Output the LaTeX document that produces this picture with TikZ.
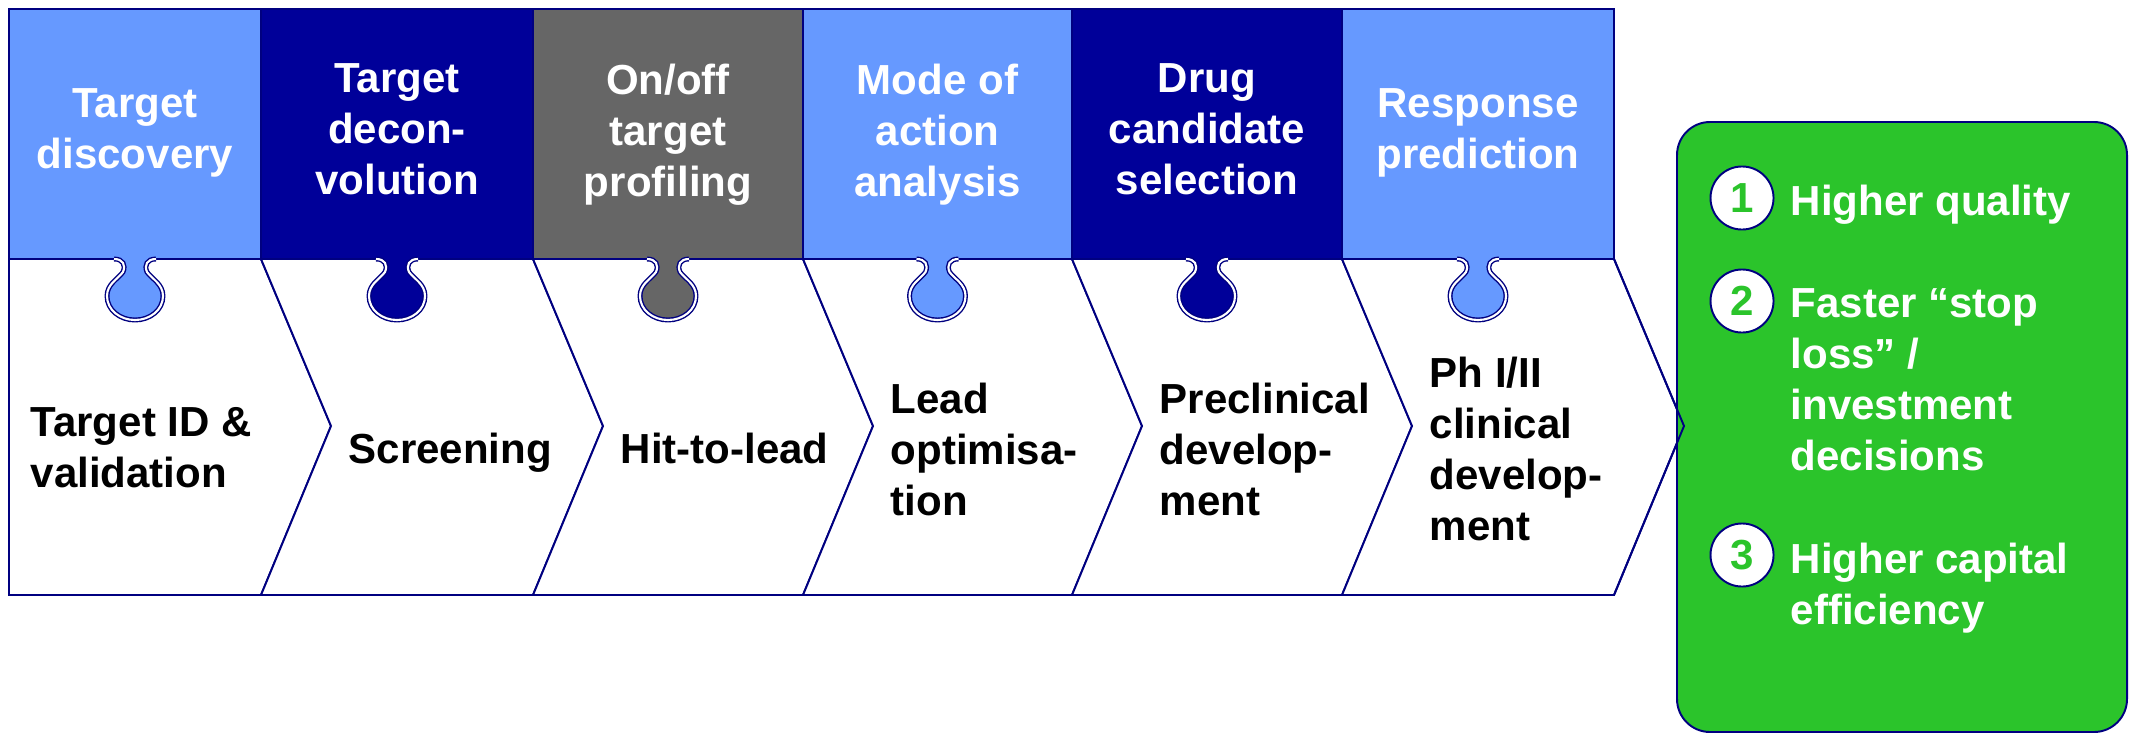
\documentclass[tikz,border=0pt]{standalone}
\usepackage{fontspec}
\setmainfont{Liberation Sans}
\usetikzlibrary{calc}
\definecolor{lightblue}{HTML}{6699FF}
\definecolor{darkblue}{HTML}{000099}
\definecolor{midgray}{HTML}{666666}
\definecolor{gaingreen}{HTML}{2BC42B}
\definecolor{navyline}{HTML}{000080}
\tikzset{x=0.01cm,y=-0.01cm}
\tikzset{
  every node/.style={inner sep=0pt, font=\fontsize{11.95}{14.5}\selectfont\bfseries},
  chev/.style={fill=white, draw=navyline, line width=0.55pt, line join=miter},
  topbox/.style={draw=navyline, line width=0.4pt},
  knobline/.style={draw=navyline, line width=0.4pt, double=white, double distance=0.6pt},
  toplabel/.style={white, align=center, anchor=north},
  steplabel/.style={black, align=left, anchor=north west},
  gainlabel/.style={white, align=left, anchor=north west},
  numcirc/.style={circle, fill=white, draw=navyline, line width=0.55pt, minimum size=0.63cm, text=gaingreen}
}
% column edges and rows
\def\xa{9}
\def\xb{261}
\def\xc{533}
\def\xd{803}
\def\xe{1072}
\def\xf{1342}
\def\xg{1614}
\def\ytop{9}
\def\ymid{259}
\def\ytip{426}
\def\ybot{595}
\def\dtip{70}
\def\txt{87}
\newcommand{\knob}[2]{%
  \begin{scope}[shift={(#1,\ymid)}]
    \fill[#2] (-21,-3) -- (-21,0) .. controls (-12,0) and (-9,6) .. (-12,13)
      .. controls (-17,20) and (-28,25) .. (-28,37)
      .. controls (-28,51) and (-15,61) .. (0,61)
      .. controls (15,61) and (28,51) .. (28,37)
      .. controls (28,25) and (17,20) .. (12,13)
      .. controls (9,6) and (12,0) .. (21,0) -- (21,-3) -- cycle;
    \draw[knobline] (-21,0) .. controls (-12,0) and (-9,6) .. (-12,13)
      .. controls (-17,20) and (-28,25) .. (-28,37)
      .. controls (-28,51) and (-15,61) .. (0,61)
      .. controls (15,61) and (28,51) .. (28,37)
      .. controls (28,25) and (17,20) .. (12,13)
      .. controls (9,6) and (12,0) .. (21,0);
  \end{scope}}

\begin{document}
\begin{tikzpicture}
\useasboundingbox (0,0) rectangle (2134,739);

% chevrons
\draw[chev] (\xa,\ymid) -- (\xb,\ymid) -- (\xb+\dtip,\ytip) -- (\xb,\ybot) -- (\xa,\ybot) -- cycle;
\draw[chev] (\xb,\ymid) -- (\xc,\ymid) -- (\xc+\dtip,\ytip) -- (\xc,\ybot) -- (\xb,\ybot) -- (\xb+\dtip,\ytip) -- cycle;
\draw[chev] (\xc,\ymid) -- (\xd,\ymid) -- (\xd+\dtip,\ytip) -- (\xd,\ybot) -- (\xc,\ybot) -- (\xc+\dtip,\ytip) -- cycle;
\draw[chev] (\xd,\ymid) -- (\xe,\ymid) -- (\xe+\dtip,\ytip) -- (\xe,\ybot) -- (\xd,\ybot) -- (\xd+\dtip,\ytip) -- cycle;
\draw[chev] (\xe,\ymid) -- (\xf,\ymid) -- (\xf+\dtip,\ytip) -- (\xf,\ybot) -- (\xe,\ybot) -- (\xe+\dtip,\ytip) -- cycle;
\draw[chev] (\xf,\ymid) -- (\xg,\ymid) -- (\xg+\dtip,\ytip) -- (\xg,\ybot) -- (\xf,\ybot) -- (\xf+\dtip,\ytip) -- cycle;

% top boxes
\draw[topbox, fill=lightblue] (\xa,\ytop) rectangle (\xb,\ymid);
\draw[topbox, fill=darkblue] (\xb,\ytop) rectangle (\xc,\ymid);
\draw[topbox, fill=midgray] (\xc,\ytop) rectangle (\xd,\ymid);
\draw[topbox, fill=lightblue] (\xd,\ytop) rectangle (\xe,\ymid);
\draw[topbox, fill=darkblue] (\xe,\ytop) rectangle (\xf,\ymid);
\draw[topbox, fill=lightblue] (\xf,\ytop) rectangle (\xg,\ymid);

% puzzle knobs
\knob{135}{lightblue}
\knob{397}{darkblue}
\knob{668}{midgray}
\knob{937.5}{lightblue}
\knob{1207}{darkblue}
\knob{1478}{lightblue}

% result box, last tip drawn again on top
\draw[fill=gaingreen, draw=navyline, line width=0.55pt, rounded corners=0.33cm] (1677,122) rectangle (2127,732);
\draw[navyline, line width=0.55pt, line join=miter] (\xg,\ymid) -- (\xg+\dtip,\ytip) -- (\xg,\ybot);

\node[toplabel] (t1) at ({(\xa+\xb)/2},88) {Target\\discovery};
\node[toplabel] (t2) at ({(\xb+\xc)/2},63) {Target\\decon-\\volution};
\node[toplabel] (t3) at ({(\xc+\xd)/2},63) {On/off\\target\\profiling};
\node[toplabel] (t4) at ({(\xd+\xe)/2},63) {Mode of\\action\\analysis};
\node[toplabel] (t5) at ({(\xe+\xf)/2},63) {Drug\\candidate\\selection};
\node[toplabel] (t6) at ({(\xf+\xg)/2},88) {Response\\prediction};

\node[steplabel] (s1) at (30,407) {Target ID \&\\validation};
\node[steplabel] (s2) at (\xb+\txt,432) {Screening};
\node[steplabel] (s3) at (\xc+\txt,432) {Hit-to-lead};
\node[steplabel] (s4) at (\xd+\txt,382) {Lead\\optimisa-\\tion};
\node[steplabel] (s5) at (\xe+\txt,382) {Preclinical\\develop-\\ment};
\node[steplabel] (s6) at (\xf+\txt,356) {Ph I/II\\clinical\\develop-\\ment};

\node[numcirc] (n1) at (1742,198) {1};
\node[numcirc] (n2) at (1742,301) {2};
\node[numcirc] (n3) at (1742,555) {3};
\node[gainlabel] (g1) at (1790,184) {Higher quality};
\node[gainlabel] (g2) at (1790,288) {Faster “stop\\loss” /\\investment\\decisions};
\node[gainlabel] (g3) at (1790,542) {Higher capital\\efficiency};

\end{tikzpicture}
\end{document}
